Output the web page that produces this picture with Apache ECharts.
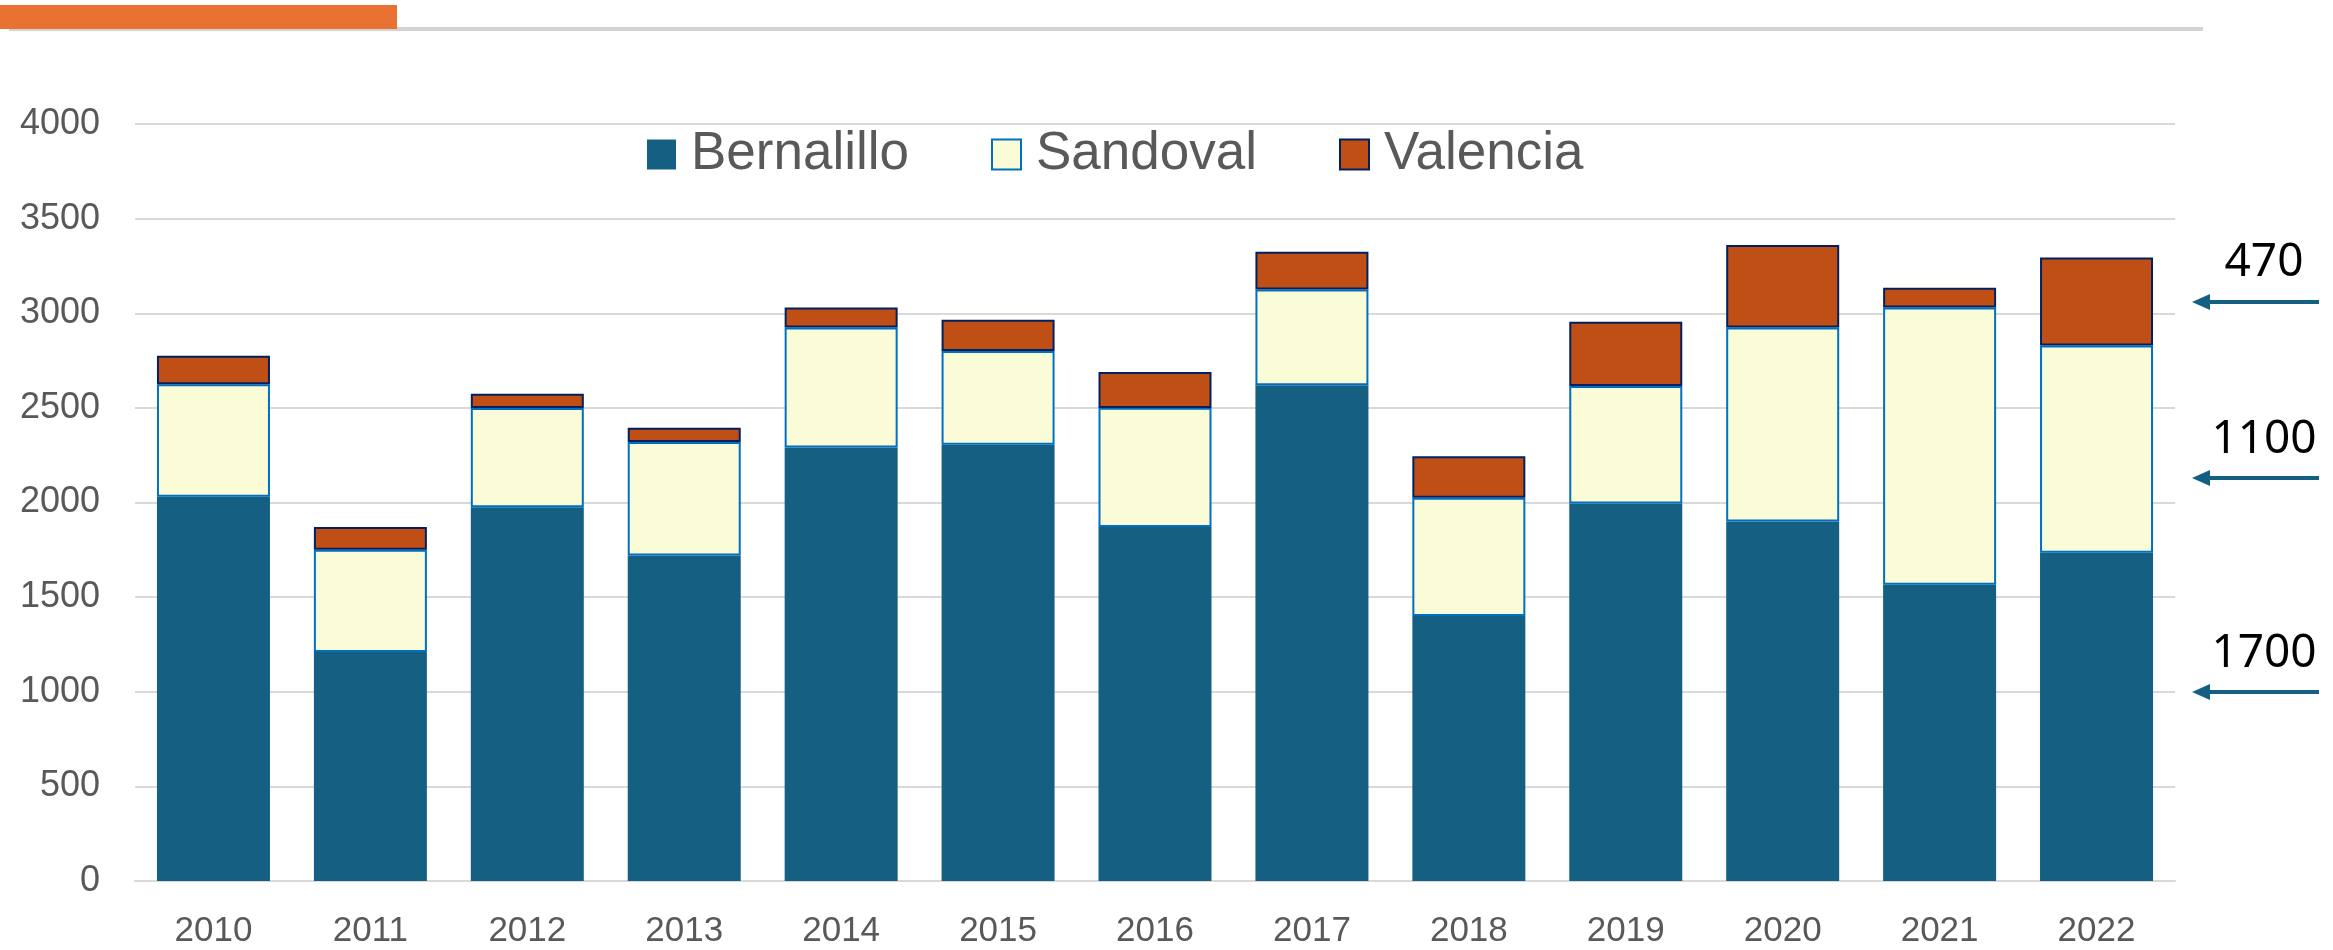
<!DOCTYPE html>
<html>
<head>
<meta charset="utf-8">
<script src="https://cdn.jsdelivr.net/npm/echarts@6/dist/echarts.min.js"></script>
<style>
  html, body { margin: 0; padding: 0; background: #fff; }
  #chart { width: 2333px; height: 950px; }
</style>
</head>
<body>
<div id="chart"></div>
<script>
var years = ['2010', '2011', '2012', '2013', '2014', '2015', '2016', '2017', '2018', '2019', '2020', '2021', '2022']
var bernalillo = [2030, 1210, 1975, 1720, 2290, 2305, 1870, 2620, 1400, 1995, 1900, 1565, 1735]
var sandoval = [595, 540, 525, 600, 635, 495, 630, 505, 625, 620, 1025, 1465, 1095]
var valencia = [150, 120, 75, 75, 105, 165, 190, 200, 220, 340, 435, 105, 465]
var yTicks = [0, 500, 1000, 1500, 2000, 2500, 3000, 3500, 4000]
// right side notes (2022 values)
var notes = ['470', '1100', '1700']

var labelGray = '#595959'
var gridGray = '#D9D9D9'
var arrowColor = '#156082'

// note and arrow y positions, pixels
var noteY = [263, 440, 654]
var arrowY = [302, 478, 692]

var graphics = [
  { type: 'rect', shape: { x: 9, y: 27, width: 2194, height: 4 }, style: { fill: '#D3D3D3' } },
  { type: 'rect', shape: { x: 0, y: 5, width: 397, height: 24 }, style: { fill: '#E97132' } }
]
notes.forEach(function (t, i) {
  graphics.push({
    type: 'text',
    style: {
      x: 2264, y: noteY[i], text: t, fill: '#000',
      font: '46px "Noto Sans"', textAlign: 'center', textVerticalAlign: 'middle'
    }
  })
  graphics.push({
    type: 'line',
    shape: { x1: 2206, y1: arrowY[i], x2: 2319, y2: arrowY[i] },
    style: { stroke: arrowColor, lineWidth: 4 }
  })
  graphics.push({
    type: 'polygon',
    shape: { points: [[2192, arrowY[i]], [2210, arrowY[i] - 8], [2210, arrowY[i] + 8]] },
    style: { fill: arrowColor }
  })
})

var chart = echarts.init(document.getElementById('chart'))
chart.setOption({
  animation: false,
  grid: { left: 135, right: 158, top: 124, bottom: 69 },
  legend: {
    left: 647,
    top: 128,
    padding: 0,
    itemWidth: 29,
    itemHeight: 30,
    itemGap: 82,
    icon: 'rect',
    textStyle: { fontFamily: 'Liberation Sans', fontSize: 53, color: labelGray, padding: [0, 0, 0, 10] },
    data: ['Bernalillo', 'Sandoval', 'Valencia']
  },
  xAxis: {
    type: 'category',
    data: years,
    axisLine: { lineStyle: { color: gridGray, width: 2 } },
    axisTick: { show: false },
    axisLabel: { fontFamily: 'Liberation Sans', fontSize: 35, color: labelGray, margin: 33 }
  },
  yAxis: {
    type: 'value',
    min: yTicks[0],
    max: yTicks[yTicks.length - 1],
    interval: 500,
    axisLine: { show: false },
    axisTick: { show: false },
    splitLine: { lineStyle: { color: gridGray, width: 2 } },
    axisLabel: {
      fontFamily: 'Liberation Sans', fontSize: 36, color: labelGray, margin: 35,
      formatter: function (v) { return String(v) }
    }
  },
  series: [
    {
      name: 'Bernalillo', type: 'bar', stack: 'total', barWidth: 113,
      itemStyle: { color: '#156082' },
      data: bernalillo
    },
    {
      name: 'Sandoval', type: 'bar', stack: 'total', barWidth: 113,
      itemStyle: { color: '#FAFBD7', borderColor: '#0070C0', borderWidth: 2 },
      data: sandoval
    },
    {
      name: 'Valencia', type: 'bar', stack: 'total', barWidth: 113,
      itemStyle: { color: '#C04F15', borderColor: '#002060', borderWidth: 2 },
      data: valencia
    }
  ],
  graphic: graphics
})
</script>
</body>
</html>
